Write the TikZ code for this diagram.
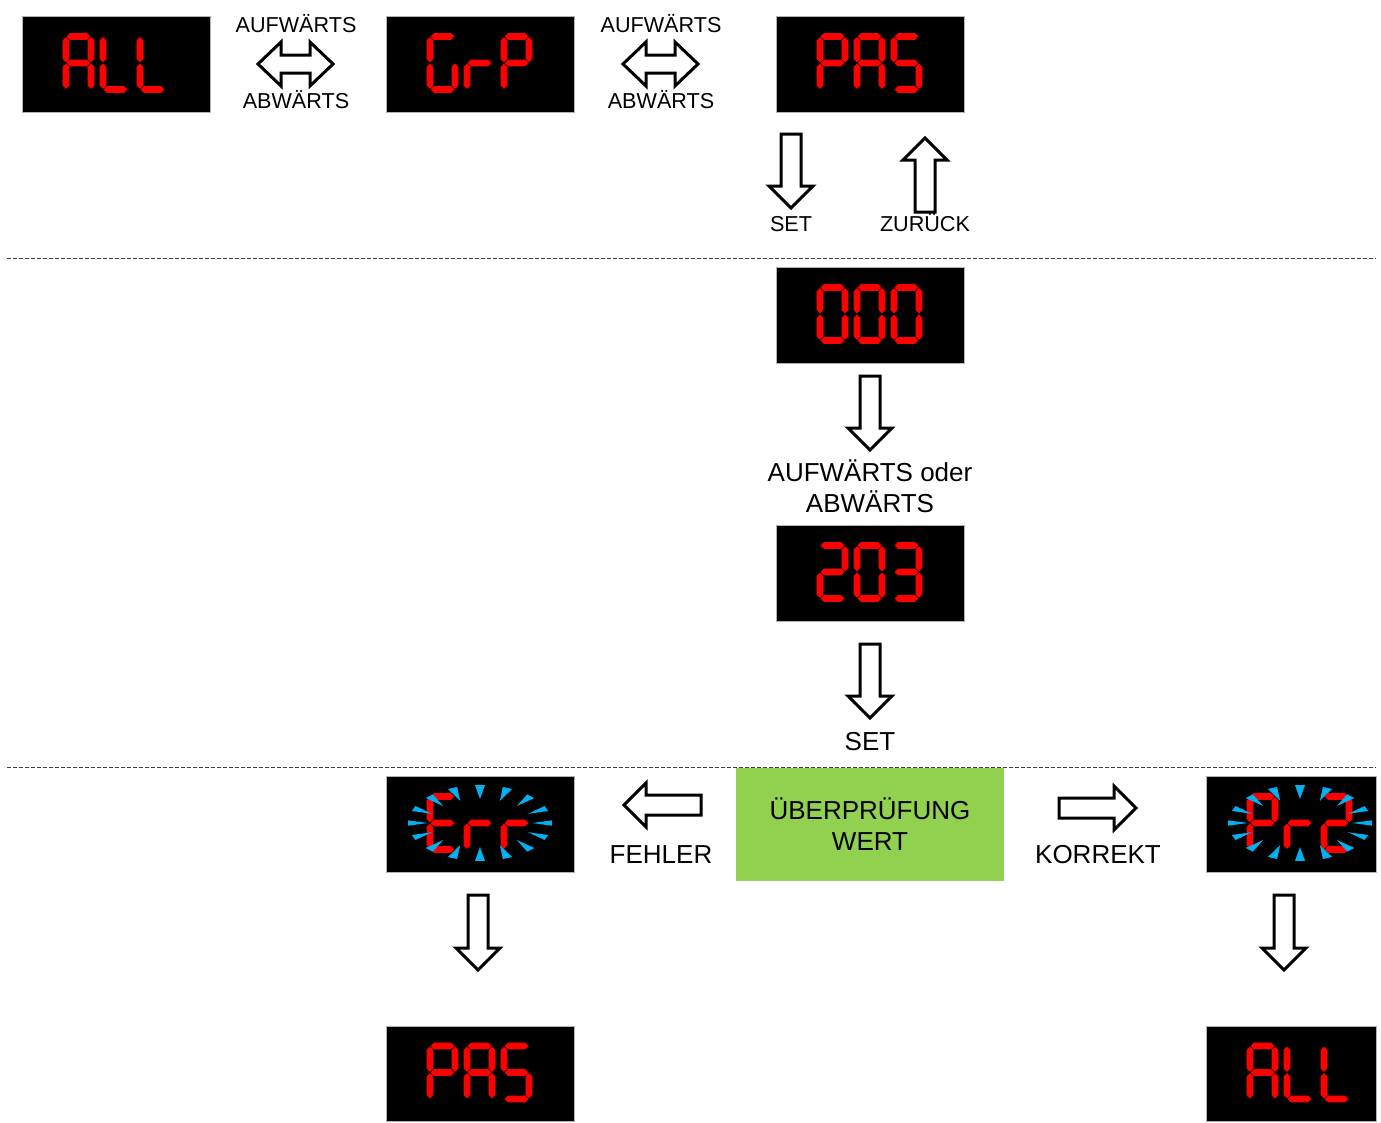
\documentclass[tikz,border=0pt]{standalone}
\usepackage{fontspec}
\setmainfont{Liberation Sans}
\usetikzlibrary{calc}
\definecolor{segred}{RGB}{255,0,0}
\definecolor{blinkblue}{RGB}{0,176,240}
\definecolor{okgreen}{RGB}{146,208,80}

% one lit segment of a seven-segment digit (digit box 32 x 60, y downwards)
\newcommand{\hseg}[3]{\fill[segred] (#1+0.6,#3) -- (#1+4,#3-3.4) -- (#2-4,#3-3.4) -- (#2-0.6,#3) -- (#2-4,#3+3.4) -- (#1+4,#3+3.4) -- cycle;}
\newcommand{\vseg}[3]{\fill[segred] (#1,#2+0.6) -- (#1+3.4,#2+4) -- (#1+3.4,#3-4) -- (#1,#3-0.6) -- (#1-3.4,#3-4) -- (#1-3.4,#2+4) -- cycle;}
\newcommand{\sega}{\hseg{3.5}{28.5}{3.5}}
\newcommand{\segb}{\vseg{28.5}{3.5}{30}}
\newcommand{\segc}{\vseg{28.5}{30}{56.5}}
\newcommand{\segd}{\hseg{3.5}{28.5}{56.5}}
\newcommand{\sege}{\vseg{3.5}{30}{56.5}}
\newcommand{\segf}{\vseg{3.5}{3.5}{30}}
\newcommand{\segg}{\hseg{3.5}{28.5}{30}}
% three characters on a display node
\newcommand{\readout}[2]{%
  \begin{scope}[shift={(#1.west)}]
  \foreach \segs [count=\i from 0] in {#2} {
    \begin{scope}[shift={(41+37*\i,-31)}]
      \foreach \s in \segs {\csname seg\s\endcsname}
    \end{scope}}
  \end{scope}}
% blinking rays round a display
\newcommand{\blink}[1]{%
  \begin{scope}[shift={(#1)}]
  \foreach \a in {0,22.5,...,337.5}
    \fill[blinkblue] (\a:52 and 24) -- (\a-4:72 and 38) -- (\a+4:72 and 38) -- cycle;
  \end{scope}}
% hollow block arrows
\newcommand{\hollowarrow}[2]{%
  \draw[hollow] let \p1=(#1), \p2=(#2), \n1={atan2(\y2-\y1,\x2-\x1)}, \n2={veclen(\x2-\x1,\y2-\y1)} in
    {[shift={(\p1)},rotate=\n1] (0,-10) -- (\n2-22,-10) -- (\n2-22,-22) -- (\n2,0) -- (\n2-22,22) -- (\n2-22,10) -- (0,10) -- cycle};}
\newcommand{\hollowdouble}[2]{%
  \draw[hollow] let \p1=(#1), \p2=(#2), \n1={atan2(\y2-\y1,\x2-\x1)}, \n2={veclen(\x2-\x1,\y2-\y1)} in
    {[shift={(\p1)},rotate=\n1] (0,0) -- (23,-22) -- (23,-9) -- (\n2-23,-9) -- (\n2-23,-22) -- (\n2,0)
      -- (\n2-23,22) -- (\n2-23,9) -- (23,9) -- (23,22) -- cycle};}

\begin{document}
\begin{tikzpicture}[x=1pt,y=-1pt,
  disp/.style={fill=black,draw=gray!60,line width=1pt,minimum width=188pt,minimum height=96pt,inner sep=0pt},
  lab/.style={font=\fontsize{21.6}{24}\selectfont,anchor=base,inner sep=0pt},
  biglab/.style={font=\fontsize{26}{31}\selectfont,align=center,inner sep=0pt},
  hollow/.style={draw=black,fill=white,line width=3pt,line join=miter},
  sepline/.style={draw=black!75,line width=1pt,dash pattern=on 4pt off 2pt}]
\useasboundingbox (0,0) rectangle (1381,1122);

\draw[sepline] (7,258) -- (1376,258);
\draw[sepline] (7,767) -- (1376,767);

% displays
\node[disp] (dALL) at (116,64) {};
\node[disp] (dGrP) at (480,64) {};
\node[disp] (dPAS) at (870,64) {};
\node[disp] (d000) at (870,315) {};
\node[disp] (d203) at (870,573) {};
\node[disp] (dErr) at (480,824) {};
\node[disp,minimum width=170pt] (dPr2) at (1291,824) {};
\node[disp,minimum height=95pt] (dPASb) at (480,1073.5) {};
\node[disp,minimum width=170pt,minimum height=95pt] (dALLb) at (1291,1073.5) {};

\readout{dALL}{{a,b,c,e,f,g},{d,e,f},{d,e,f}}
\readout{dGrP}{{a,c,d,e,f},{e,g},{a,b,e,f,g}}
\readout{dPAS}{{a,b,e,f,g},{a,b,c,e,f,g},{a,c,d,f,g}}
\readout{d000}{{a,b,c,d,e,f},{a,b,c,d,e,f},{a,b,c,d,e,f}}
\readout{d203}{{a,b,d,e,g},{a,b,c,d,e,f},{a,b,c,d,g}}
\readout{dErr}{{a,d,e,f,g},{e,g},{e,g}}
\readout{dPr2}{{a,b,e,f,g},{e,g},{a,b,d,e,g}}
\readout{dPASb}{{a,b,e,f,g},{a,b,c,e,f,g},{a,c,d,f,g}}
\readout{dALLb}{{a,b,c,e,f,g},{d,e,f},{d,e,f}}

\coordinate (errc) at ($(dErr)+(0,-1)$);
\coordinate (pr2c) at ($(dPr2)+(9,-1)$);
\blink{errc}
\blink{pr2c}

% labels
\node[lab] (up1) at (296,32) {AUFWÄRTS};
\node[lab] (dn1) at (296,108) {ABWÄRTS};
\node[lab] (up2) at (661,32) {AUFWÄRTS};
\node[lab] (dn2) at (661,108) {ABWÄRTS};
\node[lab] (set1) at (791,231) {SET};
\node[lab] (back) at (925,231) {ZURÜCK};
\node[biglab] (choose) at (870,486) {AUFWÄRTS oder\\ABWÄRTS};
\node[biglab,anchor=base] (set2) at (870,750) {SET};
\node[biglab,fill=okgreen,minimum width=268pt,minimum height=113pt] (check) at (870,824.5) {ÜBERPRÜFUNG\\WERT};
\node[biglab,anchor=base] (fail) at (661,863) {FEHLER};
\node[biglab,anchor=base] (ok) at (1098,863) {KORREKT};

% arrows
\coordinate (sw1a) at (258,64);   \coordinate (sw1b) at (333,64);
\coordinate (sw2a) at (623,64);   \coordinate (sw2b) at (698,64);
\coordinate (set1a) at (791,134); \coordinate (set1b) at (791,208);
\coordinate (backa) at (925,212); \coordinate (backb) at (925,138);
\coordinate (choosea) at (870,376); \coordinate (chooseb) at (870,450);
\coordinate (set2a) at (870,644); \coordinate (set2b) at (870,718);
\coordinate (faila) at (701,805); \coordinate (failb) at (624,805);
\coordinate (oka) at (1059,808);  \coordinate (okb) at (1136,808);
\coordinate (erra) at (478,895);  \coordinate (errb) at (478,970);
\coordinate (pr2a) at (1284,895); \coordinate (pr2b) at (1284,970);
\hollowdouble{sw1a}{sw1b}
\hollowdouble{sw2a}{sw2b}
\hollowarrow{set1a}{set1b}
\hollowarrow{backa}{backb}
\hollowarrow{choosea}{chooseb}
\hollowarrow{set2a}{set2b}
\hollowarrow{faila}{failb}
\hollowarrow{oka}{okb}
\hollowarrow{erra}{errb}
\hollowarrow{pr2a}{pr2b}
\end{tikzpicture}
\end{document}
